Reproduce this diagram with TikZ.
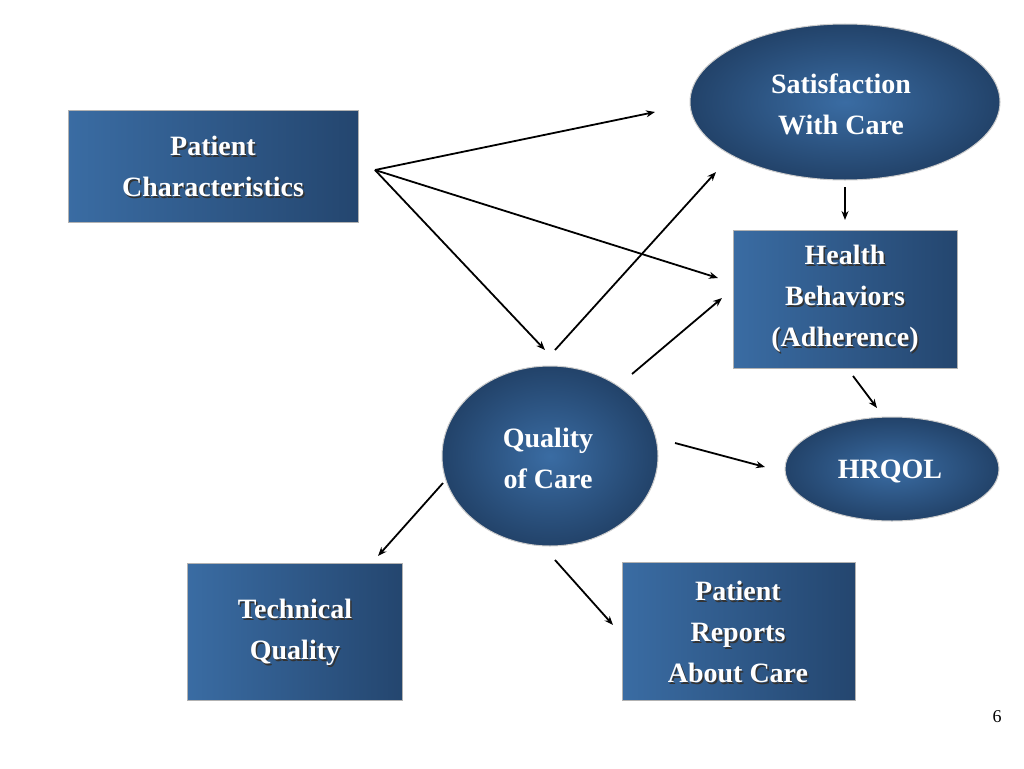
\documentclass[tikz,border=0pt]{standalone}
\usepackage{fontspec}
\setmainfont{Liberation Serif}
\usetikzlibrary{shapes.geometric,arrows.meta}
\definecolor{bl}{HTML}{3A6CA3}
\definecolor{bd}{HTML}{24466F}
\begin{document}
\begin{tikzpicture}[x=1pt,y=-1pt,
  box/.style={draw=gray!60,line width=1pt,left color=bl,right color=bd},
  ell/.style={ellipse,draw=gray!40,line width=1pt,inner color=bl,outer color=bd!95!black},
  txt/.style={text=white,font=\bfseries\fontsize{28}{41}\selectfont,align=center},
  sh/.style={text=black!80,font=\bfseries\fontsize{28}{41}\selectfont,align=center},
  arr/.style={-{Stealth[length=9pt,width=7pt]},line width=1.8pt}]
\useasboundingbox (0,0) rectangle (1024,768);
% boxes
\path[box] (68,110) rectangle (358,222);
\path[box] (733,230) rectangle (957,368);
\path[box] (187,563) rectangle (402,700);
\path[box] (622,562) rectangle (855,700);
\node[sh] at (214.5,168) {Patient\\Characteristics};
\node[txt] (pc) at (213,166) {Patient\\Characteristics};
\node[sh] at (846.5,301) {Health\\Behaviors\\(Adherence)};
\node[txt] (hb) at (845,299) {Health\\Behaviors\\(Adherence)};
\node[sh] at (296.5,634) {Technical\\Quality};
\node[txt] (tq) at (295,632) {Technical\\Quality};
\node[sh] at (739.5,634) {Patient\\Reports\\About Care};
\node[txt] (pr) at (738,632) {Patient\\Reports\\About Care};
% ellipses
\node[ell,minimum width=310pt,minimum height=156pt] (sat) at (845,102) {};
\node[txt] at (841,104) {Satisfaction\\With Care};
\node[ell,minimum width=214pt,minimum height=104pt] (hr) at (892,469) {};
\node[txt] at (890,471) {HRQOL};
\node[ell,minimum width=216pt,minimum height=180pt] (qc) at (550,456) {};
\node[txt] at (548,458) {Quality\\of Care};
\node[font=\fontsize{18}{20}\selectfont] (pg) at (997,717) {6};
% arrow endpoints
\coordinate (p0) at (375,170);
\coordinate (a1) at (655,112);
\coordinate (a2) at (718,278);
\coordinate (a3) at (545,350);
\coordinate (b0) at (555,350); \coordinate (b1) at (716,172);
\coordinate (c0) at (632,374); \coordinate (c1) at (722,298);
\coordinate (d0) at (845,187); \coordinate (d1) at (845,220);
\coordinate (e0) at (853,376); \coordinate (e1) at (877,408);
\coordinate (f0) at (675,443); \coordinate (f1) at (765,467);
\coordinate (g0) at (443,483); \coordinate (g1) at (378,556);
\coordinate (h0) at (555,560); \coordinate (h1) at (613,625);
\draw[arr] (p0) -- (a1);
\draw[arr] (p0) -- (a2);
\draw[arr] (p0) -- (a3);
\draw[arr] (b0) -- (b1);
\draw[arr] (c0) -- (c1);
\draw[arr] (d0) -- (d1);
\draw[arr] (e0) -- (e1);
\draw[arr] (f0) -- (f1);
\draw[arr] (g0) -- (g1);
\draw[arr] (h0) -- (h1);
\end{tikzpicture}
\end{document}
